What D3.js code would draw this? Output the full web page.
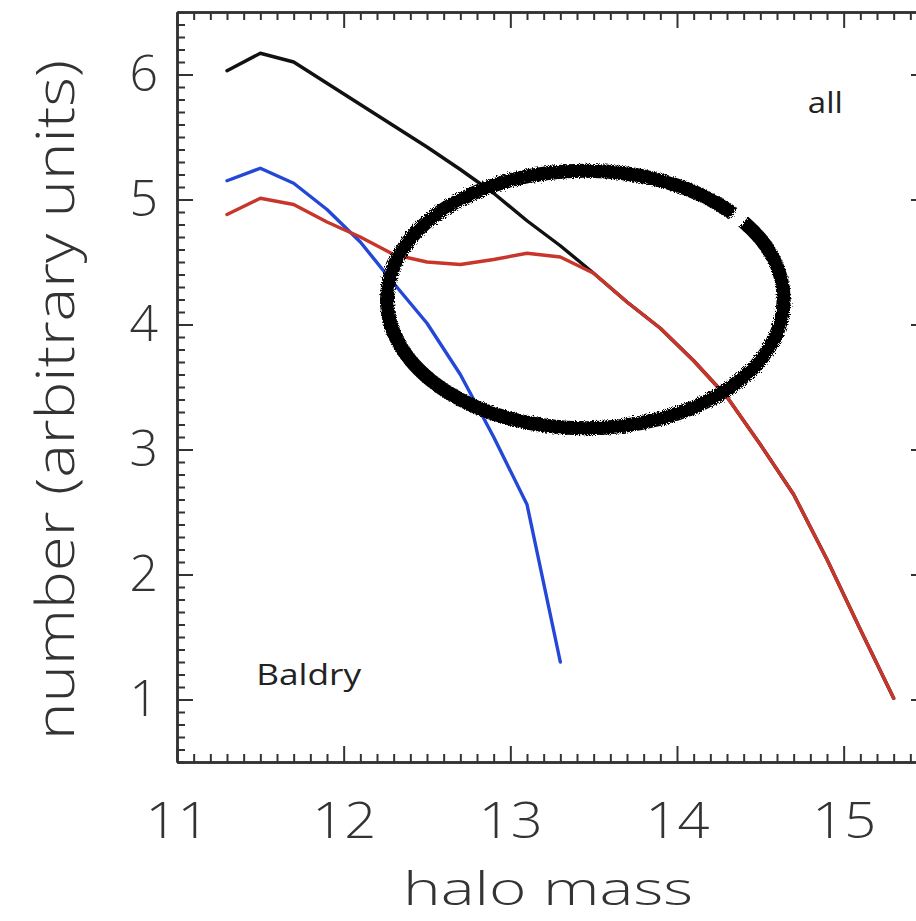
<!DOCTYPE html>
<html><head><meta charset="utf-8">
<script src="https://cdn.jsdelivr.net/npm/d3@7"></script>
<style>body{margin:0;background:#fff}svg{display:block}</style>
</head><body><svg id="c" width="916" height="921"></svg>
<script>
const mass = [11.3,11.5,11.7,11.9,12.1,12.3,12.5,12.7,12.9,13.1,13.3,13.5,13.7,13.9,14.1,14.3,14.5,14.7,14.9,15.1,15.3];
const allCounts = [6.03,6.17,6.10,5.93,5.76,5.59,5.42,5.24,5.05,4.83,4.63,4.41,4.18,3.97,3.71,3.42,3.04,2.64,2.12,1.56,1.01];
const blueCounts = [5.15,5.25,5.13,4.92,4.66,4.33,4.01,3.60,3.10,2.56,1.30];
const redCounts = [4.88,5.01,4.96,4.82,4.70,4.56,4.50,4.48,4.52,4.57,4.54,4.41,4.18,3.97,3.71,3.42,3.04,2.64,2.12,1.56,1.01];
const xMajor = [11,12,13,14,15];
const yMajor = [1,2,3,4,5,6];
const xTitle = "halo mass";
const yTitle = "number (arbitrary units)";
const labelAll = "all";
const labelBaldry = "Baldry";

const svg = d3.select("#c");
const L = 177, R = 927, T = 12, B = 762;
const x = d3.scaleLinear().domain([11, 15.5]).range([L, R]);
const y = d3.scaleLinear().domain([0.5, 6.5]).range([B, T]);

const xMinor = d3.range(110, 156).map(d => d / 10).filter(d => !xMajor.includes(d));
const yMinor = d3.range(5, 66).map(d => d / 10).filter(d => !yMajor.includes(d));

const axisColor = "#333";
const fontTick = "'Open Sans', 'DejaVu Sans', sans-serif";
const fontWeight = 300;

function styleAxis(g, hideText) {
  g.select(".domain").attr("stroke", axisColor).attr("stroke-width", 2.5);
  g.selectAll(".tick line").attr("stroke", axisColor).attr("stroke-width", 2);
  g.attr("font-family", fontTick).attr("font-size", 50).attr("font-weight", fontWeight);
  g.selectAll(".tick text").attr("fill", "#333");
  if (hideText) g.selectAll(".tick text").remove();
}

// minor ticks
svg.append("g").attr("transform", `translate(0,${B})`)
  .call(d3.axisBottom(x).tickValues(xMinor).tickSize(-8).tickSizeOuter(0).tickFormat(""))
  .call(g => styleAxis(g, true));
svg.append("g").attr("transform", `translate(0,${T})`)
  .call(d3.axisTop(x).tickValues(xMinor).tickSize(-8).tickSizeOuter(0).tickFormat(""))
  .call(g => styleAxis(g, true));
svg.append("g").attr("transform", `translate(${L},0)`)
  .call(d3.axisLeft(y).tickValues(yMinor).tickSize(-8).tickSizeOuter(0).tickFormat(""))
  .call(g => styleAxis(g, true));
svg.append("g").attr("transform", `translate(${R},0)`)
  .call(d3.axisRight(y).tickValues(yMinor).tickSize(-8).tickSizeOuter(0).tickFormat(""))
  .call(g => styleAxis(g, true));

// major ticks
svg.append("g").attr("transform", `translate(0,${B})`)
  .call(d3.axisBottom(x).tickValues(xMajor).tickSize(-16).tickSizeOuter(0).tickPadding(40).tickFormat(d3.format("d")))
  .call(g => styleAxis(g, false))
  .call(g => g.selectAll(".tick text").attr("textLength", 64).attr("lengthAdjust", "spacingAndGlyphs"));
svg.append("g").attr("transform", `translate(0,${T})`)
  .call(d3.axisTop(x).tickValues(xMajor).tickSize(-16).tickSizeOuter(0).tickFormat(""))
  .call(g => styleAxis(g, true));
svg.append("g").attr("transform", `translate(${L},0)`)
  .call(d3.axisLeft(y).tickValues(yMajor).tickSize(-16).tickSizeOuter(0).tickPadding(19).tickFormat(d3.format("d")))
  .call(g => styleAxis(g, false));
svg.append("g").attr("transform", `translate(${R},0)`)
  .call(d3.axisRight(y).tickValues(yMajor).tickSize(-16).tickSizeOuter(0).tickFormat(""))
  .call(g => styleAxis(g, true));

// lines
const line = d3.line().x(d => x(d[0])).y(d => y(d[1]));
const series = [
  {vals: allCounts, color: "#111111"},
  {vals: blueCounts, color: "#2348d8"},
  {vals: redCounts, color: "#c8362b"}
];
svg.append("g").selectAll("path").data(series).join("path")
  .attr("d", s => line(s.vals.map((v, i) => [mass[i], v])))
  .attr("fill", "none").attr("stroke", s => s.color).attr("stroke-width", 3.4)
  .attr("stroke-linejoin", "round").attr("stroke-linecap", "round");

// hand-drawn ellipse annotation
const defs = svg.append("defs");
const f = defs.append("filter").attr("id", "rough").attr("x", "-10%").attr("y", "-10%").attr("width", "120%").attr("height", "120%");
f.append("feTurbulence").attr("type", "fractalNoise").attr("baseFrequency", 0.9).attr("numOctaves", 2).attr("seed", 3).attr("result", "n");
f.append("feDisplacementMap").attr("in", "SourceGraphic").attr("in2", "n").attr("scale", 6);
const ecx = 13.45, ecy = 4.2, erx = 1.19, ery = 1.03;
const eRx = x(11 + erx) - x(11), eRy = y(0.5) - y(0.5 + ery);
const eCirc = Math.PI * (3 * (eRx + eRy) - Math.sqrt((3 * eRx + eRy) * (eRx + 3 * eRy)));
svg.append("ellipse")
  .attr("cx", x(ecx)).attr("cy", y(ecy))
  .attr("rx", eRx).attr("ry", eRy)
  .attr("fill", "none").attr("stroke", "#000").attr("stroke-width", 14)
  .attr("stroke-dasharray", `${eCirc * 0.9} ${eCirc * 0.013} ${eCirc * 0.2}`)
  .attr("filter", "url(#rough)");

// titles
svg.append("text").attr("x", 548).attr("y", 905).attr("text-anchor", "middle")
  .attr("font-family", fontTick).attr("font-weight", fontWeight).attr("font-size", 46).attr("fill", "#333")
  .attr("textLength", 290).attr("lengthAdjust", "spacingAndGlyphs").text(xTitle);
svg.append("text").attr("transform", "translate(74,400) rotate(-90)").attr("text-anchor", "middle")
  .attr("font-family", fontTick).attr("font-weight", fontWeight).attr("font-size", 54).attr("fill", "#333")
  .attr("textLength", 680).attr("lengthAdjust", "spacingAndGlyphs").text(yTitle);

// annotations
svg.append("text").attr("x", x(14.89)).attr("y", y(5.69)).attr("text-anchor", "middle")
  .attr("font-family", fontTick).attr("font-size", 29).attr("fill", "#222")
  .attr("textLength", 35).attr("lengthAdjust", "spacingAndGlyphs").text(labelAll);
svg.append("text").attr("x", x(11.79)).attr("y", y(1.12)).attr("text-anchor", "middle")
  .attr("font-family", fontTick).attr("font-size", 29).attr("fill", "#222")
  .attr("textLength", 105).attr("lengthAdjust", "spacingAndGlyphs").text(labelBaldry);
</script></body></html>
